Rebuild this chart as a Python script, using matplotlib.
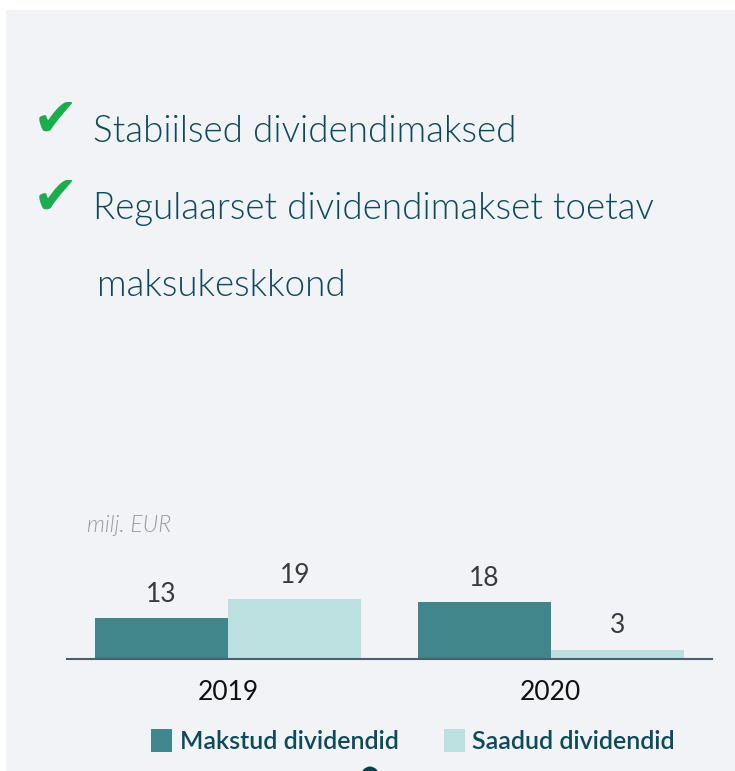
import matplotlib
matplotlib.use("Agg")
import matplotlib.pyplot as plt
from matplotlib.patches import Rectangle, Circle
import numpy as np

years = ["2019", "2020"]
paid = [13, 18]
received = [19, 3]
series_names = ["Makstud dividendid", "Saadud dividendid"]
bullets = ["Stabiilsed dividendimaksed", "Regulaarset dividendimakset toetav", "maksukeskkond"]
unit_label = "milj. EUR"

W, H = 735, 771
fig = plt.figure(figsize=(W / 100, H / 100), dpi=100)
fig.patch.set_facecolor("white")

def fx(x):
    return x / W

def fy(y):
    return 1 - y / H

# background panel
fig.patches.append(Rectangle((fx(6), 0), 1 - fx(6), fy(10), transform=fig.transFigure,
                             facecolor="#f2f3f7", edgecolor="none", zorder=-10))

title_color = "#0d4a5a"
check_color = "#1aad4b"
fam = ["Lato", "DejaVu Sans"]

# bullets
for yy in (121, 199):
    fig.text(fx(33), fy(yy), "\u2714", fontsize=39, color=check_color, family="DejaVu Sans",
             va="center", ha="left")
fig.text(fx(93), fy(142), bullets[0], fontsize=26.5, color=title_color, family=fam,
         fontweight=300, va="baseline", ha="left")
fig.text(fx(93), fy(219), bullets[1], fontsize=26.5, color=title_color, family=fam,
         fontweight=300, va="baseline", ha="left")
fig.text(fx(97), fy(296), bullets[2], fontsize=26.5, color=title_color, family=fam,
         fontweight=300, va="baseline", ha="left")

# unit label
fig.text(fx(87), fy(532), unit_label, fontsize=16.5, color="#9a9a9a", family=fam,
         style="italic", fontweight=300, va="baseline", ha="left")

# bar axes
base_px = 659
top_px = base_px - 94.5
ax = fig.add_axes([fx(67), fy(base_px), fx(712) - fx(67), (base_px - top_px) / H])
ax.set_facecolor("none")
x = np.arange(len(years))
w = 133 / 322
dark = "#40868a"
light = "#bcdfe0"
b1 = ax.bar(x - w / 2, paid, width=w, color=dark, label=series_names[0], zorder=2)
b2 = ax.bar(x + w / 2, received, width=w, color=light, label=series_names[1], zorder=2)
ax.set_xlim(-0.5, 1.5)
ax.set_ylim(0, 30)
for c in (b1, b2):
    ax.bar_label(c, padding=8, fontsize=19, color="#3a3a3a", family=fam)
for s in ["top", "left", "right"]:
    ax.spines[s].set_visible(False)
ax.spines["bottom"].set_color("#4d5d70")
ax.spines["bottom"].set_linewidth(1.5)
ax.spines["bottom"].set_zorder(3)
ax.set_yticks([])
ax.set_xticks(x)
ax.set_xticklabels(years, fontsize=19, family=fam, color="#111111")
ax.tick_params(axis="x", length=0, pad=15)

# legend
leg = fig.legend(handles=[b1, b2], labels=series_names, loc="center",
                 bbox_to_anchor=(fx(413), fy(741)), ncol=2, frameon=False,
                 prop={"family": fam, "size": 18, "weight": "semibold"},
                 handlelength=0.85, handleheight=1.0, handletextpad=0.3, columnspacing=1.8)
for t in leg.get_texts():
    t.set_color(title_color)

# partial dot at bottom
fig.patches.append(Circle((fx(370), fy(776)), radius=9 / W, transform=fig.transFigure,
                          facecolor="#0d3d4a", edgecolor="none", zorder=5))

fig.savefig("out.png", dpi=100)
